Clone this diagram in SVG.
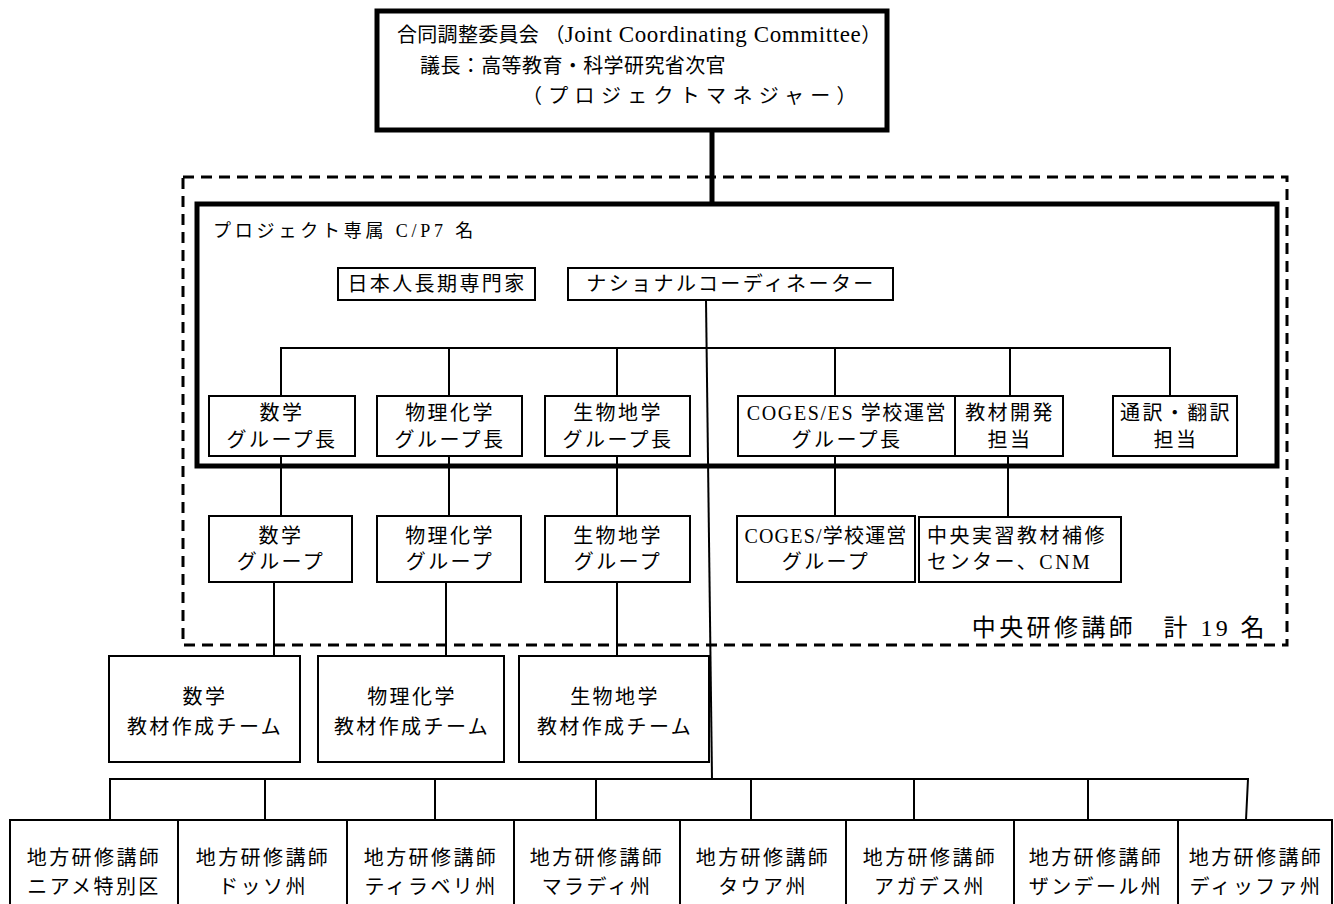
<svg xmlns="http://www.w3.org/2000/svg" width="1334" height="904" viewBox="0 0 1334 904">
<style>
text{font-family:"Liberation Serif","Noto Sans CJK JP",serif;font-size:20px;fill:#000;letter-spacing:2.4px}
.c{text-anchor:middle}
.box{fill:#fff;stroke:#000;stroke-width:2}
.thick{fill:none;stroke:#000;stroke-width:5}
.dash{fill:none;stroke:#000;stroke-width:3;stroke-dasharray:11 7}
.ln{fill:none;stroke:#000;stroke-width:2}
</style>
<rect width="1334" height="904" fill="#fff"/>
<g id="central-trainers">
<rect class="dash" x="183" y="177" width="1104" height="468"/>
<text x="1268" y="636" style="font-size:24px;letter-spacing:3.4px;text-anchor:end">中央研修講師　計 19 名</text>
</g>
<g id="project-cp">
<rect class="thick" x="197" y="204" width="1080" height="262"/>
<text x="213" y="237" style="font-size:18px;letter-spacing:3.8px">プロジェクト専属 C/P7 名</text>
</g>
<g id="connectors">
<line x1="712" y1="132" x2="712" y2="204" style="stroke:#000;stroke-width:5"/>
<line class="ln" x1="706" y1="300" x2="712" y2="779"/>
<polyline class="ln" points="281,396 281,348 1170,348 1170,396"/>
<line class="ln" x1="449" y1="348" x2="449" y2="396"/>
<line class="ln" x1="617" y1="348" x2="617" y2="396"/>
<line class="ln" x1="835" y1="348" x2="835" y2="396"/>
<line class="ln" x1="1010" y1="348" x2="1010" y2="396"/>
<line class="ln" x1="281" y1="456" x2="281" y2="516"/>
<line class="ln" x1="449" y1="456" x2="449" y2="516"/>
<line class="ln" x1="617" y1="456" x2="617" y2="516"/>
<line class="ln" x1="835" y1="456" x2="835" y2="516"/>
<line class="ln" x1="1008" y1="456" x2="1008" y2="517"/>
<line class="ln" x1="274" y1="582" x2="274" y2="656"/>
<line class="ln" x1="446" y1="582" x2="446" y2="656"/>
<line class="ln" x1="617" y1="582" x2="617" y2="656"/>
<polyline class="ln" points="110,820 110,779 1248,779 1246,820"/>
<line class="ln" x1="265" y1="779" x2="265" y2="820"/>
<line class="ln" x1="435" y1="779" x2="435" y2="820"/>
<line class="ln" x1="596" y1="779" x2="596" y2="820"/>
<line class="ln" x1="751" y1="779" x2="751" y2="820"/>
<line class="ln" x1="914" y1="779" x2="914" y2="820"/>
<line class="ln" x1="1088" y1="779" x2="1088" y2="820"/>
</g>
<g id="jcc">
<rect class="thick" x="377" y="11" width="510" height="119"/>
<text x="397" y="42" style="letter-spacing:0.3px">合同調整委員会 （<tspan style="font-size:23px;letter-spacing:0.6px">Joint Coordinating Committee</tspan>）</text>
<text x="420" y="73" style="letter-spacing:0.4px">議長：高等教育・科学研究省次官</text>
<text x="522" y="103" style="letter-spacing:6.3px">（プロジェクトマネジャー）</text>
</g>
<g id="jp-expert">
<rect class="box" x="338" y="268" width="197" height="32"/>
<text class="c" x="437" y="291">日本人長期専門家</text>
</g>
<g id="national-coordinator">
<rect class="box" x="568" y="268" width="325" height="32"/>
<text class="c" x="731" y="291">ナショナルコーディネーター</text>
</g>
<g id="math-leader">
<rect class="box" x="209" y="396" width="146" height="60"/>
<text class="c" x="282" y="420">数学</text>
<text class="c" x="282" y="447">グループ長</text>
</g>
<g id="phys-leader">
<rect class="box" x="377" y="396" width="145" height="60"/>
<text class="c" x="450" y="420">物理化学</text>
<text class="c" x="450" y="447">グループ長</text>
</g>
<g id="bio-leader">
<rect class="box" x="545" y="396" width="145" height="60"/>
<text class="c" x="618" y="420">生物地学</text>
<text class="c" x="618" y="447">グループ長</text>
</g>
<g id="coges-leader">
<rect class="box" x="738" y="396" width="217" height="60"/>
<text class="c" x="847" y="420" style="letter-spacing:1.6px">COGES/ES 学校運営</text>
<text class="c" x="847" y="447">グループ長</text>
</g>
<g id="material-dev">
<rect class="box" x="955" y="396" width="108" height="60"/>
<text class="c" x="1010" y="420">教材開発</text>
<text class="c" x="1010" y="447">担当</text>
</g>
<g id="interpreter">
<rect class="box" x="1113" y="396" width="124" height="60"/>
<text class="c" x="1176" y="420">通訳・翻訳</text>
<text class="c" x="1176" y="447">担当</text>
</g>
<g id="math-group">
<rect class="box" x="209" y="516" width="143" height="66"/>
<text class="c" x="281" y="543">数学</text>
<text class="c" x="281" y="569">グループ</text>
</g>
<g id="phys-group">
<rect class="box" x="377" y="516" width="144" height="66"/>
<text class="c" x="450" y="543">物理化学</text>
<text class="c" x="450" y="569">グループ</text>
</g>
<g id="bio-group">
<rect class="box" x="545" y="516" width="145" height="66"/>
<text class="c" x="618" y="543">生物地学</text>
<text class="c" x="618" y="569">グループ</text>
</g>
<g id="coges-group">
<rect class="box" x="737" y="516" width="178" height="66"/>
<text class="c" x="826" y="543" style="letter-spacing:1.2px">COGES/学校運営</text>
<text class="c" x="826" y="569">グループ</text>
</g>
<g id="cnm">
<rect class="box" x="919" y="517" width="202" height="65"/>
<text x="927" y="543" style="letter-spacing:2.5px">中央実習教材補修</text>
<text x="927" y="569" style="letter-spacing:2.5px">センター、CNM</text>
</g>
<g id="math-team">
<rect class="box" x="109" y="656" width="191" height="106"/>
<text class="c" x="205" y="704">数学</text>
<text class="c" x="205" y="734">教材作成チーム</text>
</g>
<g id="phys-team">
<rect class="box" x="318" y="656" width="186" height="106"/>
<text class="c" x="412" y="704">物理化学</text>
<text class="c" x="412" y="734">教材作成チーム</text>
</g>
<g id="bio-team">
<rect class="box" x="519" y="656" width="190" height="106"/>
<text class="c" x="615" y="704">生物地学</text>
<text class="c" x="615" y="734">教材作成チーム</text>
</g>
<g id="regional">
<rect class="box" x="10" y="820" width="1322" height="86"/>
<line class="ln" x1="178" y1="820" x2="178" y2="904"/>
<line class="ln" x1="347" y1="820" x2="347" y2="904"/>
<line class="ln" x1="514" y1="820" x2="514" y2="904"/>
<line class="ln" x1="680" y1="820" x2="680" y2="904"/>
<line class="ln" x1="846" y1="820" x2="846" y2="904"/>
<line class="ln" x1="1014" y1="820" x2="1014" y2="904"/>
<line class="ln" x1="1178" y1="820" x2="1178" y2="904"/>
</g>
<g id="r1"><text class="c" x="94" y="865">地方研修講師</text><text class="c" x="94" y="894">ニアメ特別区</text></g>
<g id="r2"><text class="c" x="263" y="865">地方研修講師</text><text class="c" x="263" y="894">ドッソ州</text></g>
<g id="r3"><text class="c" x="431" y="865">地方研修講師</text><text class="c" x="431" y="894">ティラベリ州</text></g>
<g id="r4"><text class="c" x="597" y="865">地方研修講師</text><text class="c" x="597" y="894">マラディ州</text></g>
<g id="r5"><text class="c" x="763" y="865">地方研修講師</text><text class="c" x="763" y="894">タウア州</text></g>
<g id="r6"><text class="c" x="930" y="865">地方研修講師</text><text class="c" x="930" y="894">アガデス州</text></g>
<g id="r7"><text class="c" x="1096" y="865">地方研修講師</text><text class="c" x="1096" y="894">ザンデール州</text></g>
<g id="r8"><text class="c" x="1256" y="865">地方研修講師</text><text class="c" x="1256" y="894">ディッファ州</text></g>
</svg>
